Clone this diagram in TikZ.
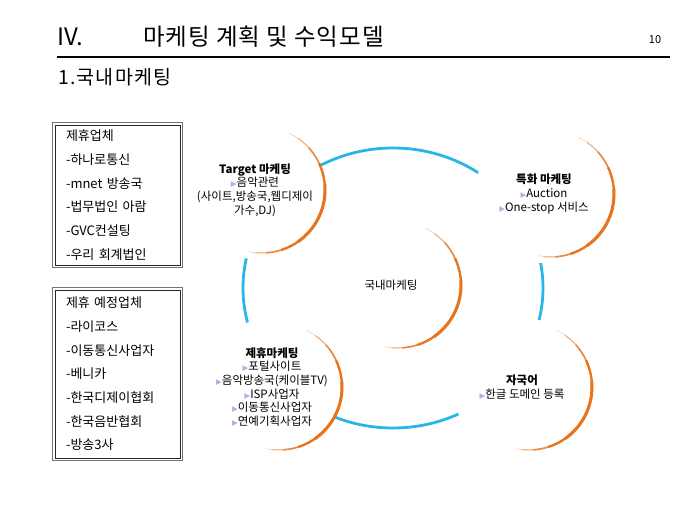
\documentclass[tikz,border=0pt]{standalone}
\usepackage{fontspec}
\setmainfont{Noto Sans CJK KR}
\newfontfamily\symbolfont{DejaVu Sans}
\usepackage{tikz}
\usetikzlibrary{positioning}
\usepackage{xcolor}
\definecolor{ringblue}{RGB}{38,182,232}
\definecolor{arcorange}{RGB}{232,116,30}
\definecolor{bulletblue}{RGB}{176,176,232}
\tikzset{%
	bubble/.style={
		circle,
		fill=white,
		minimum size=138,
		inner sep=0
	},
	bubble text/.style={
		align=center,
		font=\fontsize{11.5}{13.6}\selectfont
	},
	list box/.style={
		align=left,
		text width=103pt,
		inner xsep=13pt,
		inner ysep=0pt,
		font=\fontsize{13}{23.7}\selectfont
	},
	box outer/.style={draw=black!55, line width=1.3pt},
	box inner/.style={draw=black!85, line width=0.7pt},
	heading/.style={
		anchor=west,
		inner sep=0
	},
}
\newcommand{\tribul}{{\color{bulletblue}\symbolfont\fontsize{7.5}{7.5}\selectfont ▶}}
\newcommand{\crescent}[1]{%
	\begin{scope}[shift={(#1.center)}, xshift=7pt]
		\foreach \sa/\ea/\lw/\pc in {-64/102/0.6/35, -55/96/1.0/60, -42/86/1.6/85, -25/72/2.3/100, -5/55/3.0/100}
			\draw[draw=arcorange!\pc, line width=\lw pt] (\sa:63) arc[start angle=\sa, end angle=\ea, radius=63];
	\end{scope}}
\newcommand{\doublebox}[1]{%
	\draw[box outer] (#1.north west) rectangle (#1.south east);
	\draw[box inner] ([xshift=2.2pt,yshift=-2.2pt]#1.north west) rectangle ([xshift=-2.2pt,yshift=2.2pt]#1.south east);}

\begin{document}
\begin{tikzpicture}[x=1pt, y=-1pt]
	\useasboundingbox[fill=white] (0,0) rectangle (680,510);

	% heading
	\node[heading, font=\fontsize{24}{24}\selectfont] (chapter) at (57,37) {IV.};
	\node[heading, font=\fontsize{23.5}{24}\selectfont\addfontfeatures{LetterSpace=4}] (title) at (143,37) {마케팅 계획 및 수익모델};
	\node[inner sep=0, font=\fontsize{11}{11}\selectfont] (page) at (655,40) {10};
	\coordinate (rule west) at (57,57);
	\coordinate (rule east) at (670,57);
	\draw[line width=2pt] (rule west) -- (rule east);
	\node[heading, font=\fontsize{19.5}{20}\selectfont\addfontfeatures{LetterSpace=6}] (section) at (58,77) {1.국내마케팅};

	% partner lists
	\node[list box, minimum height=144pt] (partners) at (117.5,195) {제휴업체\\-하나로통신\\-mnet 방송국\\-법무법인 아람\\-GVC컨설팅\\-우리 회계법인};
	\node[list box, minimum height=172pt] (planned) at (117.5,374) {제휴 예정업체\\-라이코스\\-이동통신사업자\\-베니카\\-한국디제이협회\\-한국음반협회\\-방송3사};
	\doublebox{partners}
	\doublebox{planned}

	% ring behind the bubbles
	\coordinate (hub) at (393,288);
	\draw[draw=ringblue, line width=2.8pt] (hub) ellipse [x radius=150, y radius=140];

	% bubbles
	\node[bubble] (target) at (255,190) {};
	\node[bubble] (special) at (544,194) {};
	\node[bubble] (domestic) at (391,285) {};
	\node[bubble] (alliance) at (272,387) {};
	\node[bubble] (native) at (522,387) {};
	\foreach \bub in {target, special, domestic, alliance, native}
		\crescent{\bub};

	% bubble texts
	\node[bubble text] (target text) at (target) {{\bfseries Target 마케팅}\\\tribul 음악관련\\(사이트,방송국,웹디제이\\가수,DJ)};
	\node[bubble text] (special text) at (special) {{\bfseries 특화 마케팅}\\\tribul Auction\\\tribul One-stop 서비스};
	\node[bubble text] (domestic text) at (domestic) {국내마케팅};
	\node[bubble text] (alliance text) at (alliance) {{\bfseries 제휴마케팅}\\\tribul 포털사이트\\\tribul 음악방송국(케이블TV)\\\tribul ISP사업자\\\tribul 이동통신사업자\\\tribul 연예기획사업자};
	\node[bubble text] (native text) at (native) {{\bfseries 자국어}\\\tribul 한글 도메인 등록};
\end{tikzpicture}
\end{document}
